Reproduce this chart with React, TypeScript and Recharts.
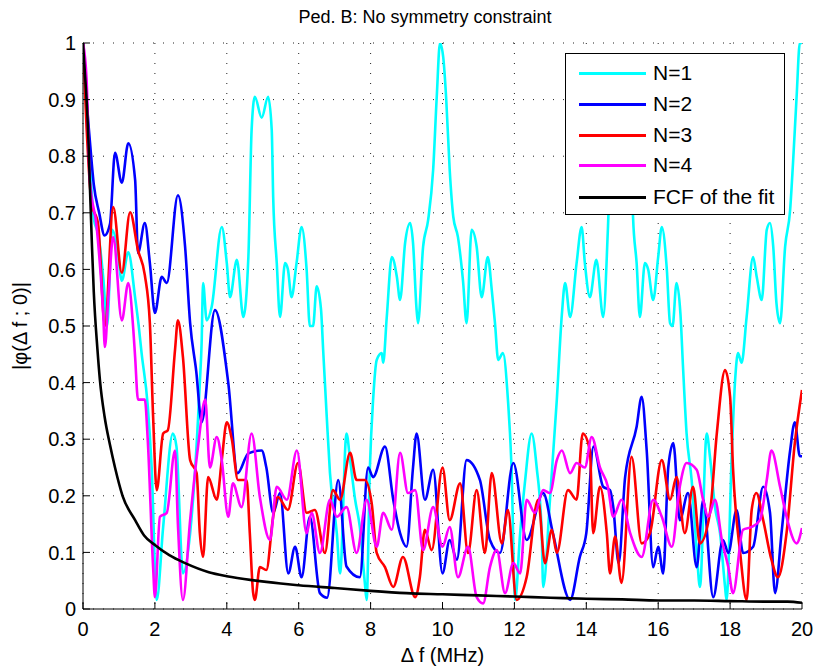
import { LineChart, Line, XAxis, YAxis, CartesianGrid } from "recharts";

// Ped. B frequency correlation, |phi(df;0)| vs df in MHz
const xTicks = [0, 2, 4, 6, 8, 10, 12, 14, 16, 18, 20];
const yTicks = [0, 0.1, 0.2, 0.3, 0.4, 0.5, 0.6, 0.7, 0.8, 0.9, 1];

// [df (MHz), |phi|]
const n1: [number, number][] = [
  [0, 1], [0.1, 0.9], [0.2, 0.78], [0.3, 0.69], [0.43, 0.66], [0.57, 0.58], [0.67, 0.5],
  [0.81, 0.67], [0.95, 0.64], [1.08, 0.58], [1.26, 0.63], [1.45, 0.55], [1.55, 0.5],
  [1.63, 0.452], [1.8, 0.36], [1.91, 0.25], [2.05, 0.016], [2.23, 0.145], [2.5, 0.31],
  [2.6, 0.287], [2.78, 0.063], [2.98, 0.134], [3.25, 0.4], [3.3, 0.47], [3.34, 0.576],
  [3.44, 0.51], [3.58, 0.534], [3.86, 0.675], [4.0, 0.611], [4.09, 0.551], [4.28, 0.617],
  [4.46, 0.516], [4.6, 0.622], [4.69, 0.846], [4.78, 0.905], [4.97, 0.868], [5.15, 0.905],
  [5.25, 0.846], [5.29, 0.728], [5.39, 0.611], [5.48, 0.516], [5.62, 0.611], [5.7, 0.6],
  [5.8, 0.551], [5.94, 0.611], [6.08, 0.675], [6.22, 0.6], [6.31, 0.5], [6.4, 0.5],
  [6.5, 0.57], [6.62, 0.53], [6.68, 0.458], [6.78, 0.34], [6.87, 0.24], [7.06, 0.134],
  [7.15, 0.063], [7.33, 0.31], [7.43, 0.263], [7.57, 0.193], [7.7, 0.145], [7.84, 0.046],
  [7.89, 0.016], [7.98, 0.25], [8.07, 0.37], [8.17, 0.44], [8.31, 0.452], [8.35, 0.435],
  [8.45, 0.516], [8.59, 0.622], [8.73, 0.587], [8.82, 0.546], [8.96, 0.647], [9.1, 0.682],
  [9.18, 0.647], [9.28, 0.528], [9.32, 0.505], [9.46, 0.64], [9.6, 0.687], [9.74, 0.776],
  [9.84, 0.905], [9.93, 1.0], [10.02, 0.975], [10.1, 0.905], [10.2, 0.776], [10.3, 0.693],
  [10.43, 0.657], [10.57, 0.58], [10.67, 0.505], [10.81, 0.67], [10.95, 0.64], [11.09, 0.551],
  [11.26, 0.622], [11.37, 0.564], [11.46, 0.505], [11.55, 0.44], [11.68, 0.452], [11.82, 0.37],
  [11.92, 0.25], [12.02, 0.016], [12.16, 0.134], [12.29, 0.222], [12.48, 0.31], [12.62, 0.25],
  [12.76, 0.134], [12.8, 0.039], [12.99, 0.193], [13.18, 0.37], [13.32, 0.52], [13.41, 0.576],
  [13.55, 0.516], [13.73, 0.611], [13.87, 0.675], [13.96, 0.611], [14.1, 0.551], [14.28, 0.617],
  [14.47, 0.516], [14.6, 0.67], [14.7, 0.85], [14.8, 0.9], [15.0, 0.87], [15.15, 0.9],
  [15.25, 0.85], [15.3, 0.693], [15.4, 0.611], [15.49, 0.516], [15.63, 0.611], [15.72, 0.6],
  [15.86, 0.546], [16.0, 0.622], [16.1, 0.675], [16.24, 0.6], [16.33, 0.505], [16.4, 0.5],
  [16.51, 0.576], [16.62, 0.52], [16.69, 0.428], [16.79, 0.31], [16.93, 0.228], [17.07, 0.104],
  [17.16, 0.039], [17.35, 0.31], [17.44, 0.269], [17.58, 0.18], [17.72, 0.134], [17.86, 0.039],
  [17.9, 0.016], [18.05, 0.28], [18.14, 0.405], [18.22, 0.452], [18.32, 0.435], [18.46, 0.516],
  [18.64, 0.622], [18.74, 0.587], [18.88, 0.546], [19.02, 0.67], [19.11, 0.682], [19.2, 0.64],
  [19.29, 0.54], [19.39, 0.505], [19.53, 0.64], [19.67, 0.705], [19.75, 0.788], [19.85, 0.905],
  [19.94, 1.0], [20, 1.0],
];

const n2: [number, number][] = [
  [0, 1], [0.1, 0.9], [0.2, 0.82], [0.3, 0.75], [0.45, 0.7], [0.6, 0.66], [0.75, 0.68],
  [0.89, 0.806], [1.08, 0.753], [1.26, 0.823], [1.45, 0.758], [1.53, 0.629], [1.72, 0.682],
  [1.86, 0.611], [2.0, 0.523], [2.19, 0.587], [2.33, 0.576], [2.64, 0.731], [2.84, 0.64],
  [2.98, 0.505], [3.15, 0.42], [3.3, 0.33], [3.67, 0.528], [4.04, 0.4], [4.3, 0.24],
  [4.6, 0.275], [4.97, 0.28], [5.1, 0.25], [5.29, 0.17], [5.48, 0.205], [5.71, 0.063],
  [5.9, 0.11], [6.08, 0.056], [6.31, 0.163], [6.59, 0.028], [6.79, 0.02], [7.1, 0.228],
  [7.33, 0.075], [7.7, 0.056], [7.93, 0.25], [8.07, 0.233], [8.4, 0.287], [8.63, 0.193],
  [8.82, 0.134], [9.0, 0.11], [9.18, 0.25], [9.28, 0.31], [9.51, 0.193], [9.74, 0.246],
  [10.0, 0.063], [10.2, 0.122], [10.4, 0.087], [10.67, 0.263], [11.04, 0.228], [11.32, 0.122],
  [11.6, 0.099], [11.97, 0.258], [12.34, 0.122], [12.8, 0.205], [13.07, 0.134], [13.55, 0.016],
  [13.82, 0.092], [14.0, 0.134], [14.2, 0.287], [14.47, 0.216], [14.66, 0.21], [14.75, 0.18],
  [14.9, 0.081], [15.08, 0.233], [15.4, 0.322], [15.54, 0.375], [15.68, 0.28], [15.86, 0.074],
  [16.0, 0.11], [16.14, 0.063], [16.28, 0.25], [16.42, 0.293], [16.6, 0.157], [16.83, 0.205],
  [17.07, 0.074], [17.25, 0.193], [17.53, 0.021], [17.8, 0.122], [17.95, 0.099], [18.18, 0.175],
  [18.36, 0.099], [18.64, 0.11], [18.92, 0.216], [19.11, 0.17], [19.25, 0.028], [19.43, 0.134],
  [19.67, 0.28], [19.8, 0.33], [19.94, 0.27], [20, 0.27],
];

const n3: [number, number][] = [
  [0, 1], [0.1, 0.85], [0.24, 0.717], [0.42, 0.68], [0.61, 0.5], [0.84, 0.71], [1.08, 0.594],
  [1.31, 0.701], [1.53, 0.634], [1.72, 0.59], [1.86, 0.505], [1.95, 0.34], [2.05, 0.21],
  [2.23, 0.31], [2.36, 0.316], [2.56, 0.458], [2.64, 0.51], [2.78, 0.445], [2.98, 0.263],
  [3.16, 0.24], [3.25, 0.134], [3.34, 0.092], [3.48, 0.233], [3.72, 0.193], [3.86, 0.263],
  [4.0, 0.33], [4.14, 0.3], [4.31, 0.228], [4.55, 0.228], [4.64, 0.134], [4.73, 0.03],
  [4.78, 0.016], [4.92, 0.074], [5.1, 0.069], [5.29, 0.163], [5.42, 0.198], [5.7, 0.175],
  [5.98, 0.258], [6.22, 0.17], [6.45, 0.175], [6.73, 0.099], [6.95, 0.21], [7.15, 0.193],
  [7.43, 0.276], [7.61, 0.228], [7.84, 0.228], [8.03, 0.187], [8.17, 0.099], [8.4, 0.074],
  [8.63, 0.039], [8.9, 0.092], [9.24, 0.021], [9.37, 0.056], [9.51, 0.14], [9.7, 0.104],
  [10.0, 0.25], [10.2, 0.157], [10.49, 0.222], [10.71, 0.099], [10.95, 0.21], [11.18, 0.099],
  [11.37, 0.24], [11.65, 0.116], [11.82, 0.175], [12.06, 0.016], [12.34, 0.056], [12.66, 0.193],
  [12.85, 0.081], [13.04, 0.14], [13.18, 0.099], [13.49, 0.21], [13.73, 0.193], [13.9, 0.31],
  [14.1, 0.28], [14.19, 0.134], [14.38, 0.216], [14.57, 0.134], [14.66, 0.063], [14.8, 0.128],
  [14.98, 0.046], [15.26, 0.269], [15.54, 0.116], [15.77, 0.134], [16.1, 0.263], [16.33, 0.193],
  [16.51, 0.233], [16.74, 0.134], [16.97, 0.216], [17.16, 0.116], [17.44, 0.17], [17.63, 0.31],
  [17.86, 0.422], [18.0, 0.375], [18.08, 0.25], [18.28, 0.099], [18.46, 0.016], [18.6, 0.175],
  [18.73, 0.205], [18.92, 0.157], [19.15, 0.087], [19.33, 0.056], [19.57, 0.134], [19.8, 0.293],
  [20, 0.387],
];

const n4: [number, number][] = [
  [0, 1], [0.1, 0.935], [0.19, 0.758], [0.38, 0.675], [0.56, 0.523], [0.61, 0.463], [0.7, 0.546],
  [0.84, 0.657], [1.08, 0.51], [1.26, 0.576], [1.4, 0.493], [1.45, 0.445], [1.53, 0.37],
  [1.72, 0.37], [1.8, 0.3], [1.95, 0.074], [2.0, 0.021], [2.14, 0.163], [2.33, 0.17],
  [2.56, 0.28], [2.64, 0.15], [2.78, 0.016], [2.98, 0.157], [3.2, 0.287], [3.4, 0.37],
  [3.53, 0.25], [3.72, 0.304], [3.86, 0.263], [4.04, 0.163], [4.17, 0.222], [4.41, 0.18],
  [4.69, 0.31], [4.92, 0.198], [5.2, 0.122], [5.39, 0.216], [5.67, 0.193], [5.95, 0.28],
  [6.22, 0.134], [6.36, 0.17], [6.59, 0.099], [6.87, 0.193], [7.06, 0.163], [7.33, 0.18],
  [7.61, 0.099], [7.89, 0.193], [8.17, 0.11], [8.35, 0.17], [8.59, 0.14], [8.82, 0.276],
  [9.04, 0.205], [9.24, 0.21], [9.46, 0.104], [9.74, 0.18], [10.0, 0.11], [10.2, 0.145],
  [10.43, 0.056], [10.71, 0.11], [10.95, 0.021], [11.13, 0.01], [11.32, 0.074], [11.51, 0.104],
  [11.74, 0.028], [11.97, 0.081], [12.16, 0.063], [12.34, 0.193], [12.57, 0.17], [12.8, 0.21],
  [12.99, 0.205], [13.18, 0.263], [13.32, 0.28], [13.55, 0.24], [13.73, 0.258], [13.96, 0.25],
  [14.15, 0.304], [14.38, 0.25], [14.6, 0.216], [14.75, 0.163], [14.98, 0.193], [15.22, 0.134],
  [15.54, 0.092], [15.86, 0.193], [16.1, 0.163], [16.38, 0.11], [16.6, 0.216], [16.79, 0.258],
  [17.07, 0.246], [17.25, 0.193], [17.39, 0.163], [17.58, 0.193], [17.77, 0.122], [17.95, 0.074],
  [18.08, 0.028], [18.36, 0.14], [18.6, 0.145], [18.83, 0.157], [19.02, 0.228], [19.15, 0.28],
  [19.39, 0.216], [19.57, 0.163], [19.85, 0.116], [20, 0.143],
];

const fcf: [number, number][] = [
  [0, 1], [0.03, 0.97], [0.06, 0.94], [0.1, 0.9], [0.15, 0.83], [0.19, 0.75], [0.25, 0.64],
  [0.3, 0.56], [0.4, 0.46], [0.47, 0.405], [0.6, 0.34], [0.75, 0.29], [0.89, 0.25], [1.1, 0.2],
  [1.45, 0.157], [1.7, 0.13], [2.0, 0.113], [2.4, 0.095], [2.84, 0.081], [3.5, 0.065],
  [4.0, 0.058], [4.7, 0.051], [5.5, 0.045], [6.0, 0.042], [7.0, 0.037], [8.0, 0.032],
  [9.0, 0.028], [10.0, 0.026], [11.0, 0.024], [12.0, 0.022], [13.0, 0.02], [14.0, 0.018],
  [15.0, 0.017], [16.0, 0.015], [17.0, 0.015], [18.0, 0.014], [19.0, 0.013], [19.6, 0.013],
  [20, 0.011],
];

const series = [
  { name: "N=1", color: "#00ffff", pts: n1 },
  { name: "N=2", color: "#0000ff", pts: n2 },
  { name: "N=3", color: "#ff0000", pts: n3 },
  { name: "N=4", color: "#ff00ff", pts: n4 },
  { name: "FCF of the fit", color: "#000000", pts: fcf },
];

const font = "'Liberation Sans', Arial, Helvetica, sans-serif";

const fmtY = (v: number) => (v === 0 || v === 1 ? String(v) : v.toFixed(1));

export default function App() {
  return (
    <div
      style={{
        position: "absolute",
        left: 0,
        top: 0,
        width: 819,
        height: 671,
        background: "#fff",
        fontFamily: font,
      }}
    >
      <LineChart
        width={819}
        height={671}
        margin={{ top: 43, right: 17, bottom: 32, left: 0 }}
      >
        <CartesianGrid stroke="#222" strokeDasharray="1 9" />
        <XAxis
          dataKey="f"
          type="number"
          domain={[0, 20]}
          ticks={xTicks}
          allowDataOverflow
          height={30}
          tickSize={-7}
          tickMargin={20}
          axisLine={{ stroke: "#000" }}
          tickLine={{ stroke: "#000" }}
          tick={{ fill: "#000", fontSize: 20, fontFamily: font }}
        />
        <XAxis
          xAxisId="top"
          orientation="top"
          dataKey="f"
          type="number"
          domain={[0, 20]}
          ticks={xTicks}
          allowDataOverflow
          height={0}
          tickSize={-7}
          tick={false}
          axisLine={{ stroke: "#000" }}
          tickLine={{ stroke: "#000" }}
        />
        <YAxis
          type="number"
          domain={[0, 1]}
          ticks={yTicks}
          allowDataOverflow
          width={83}
          tickSize={-7}
          tickMargin={14}
          tickFormatter={fmtY}
          axisLine={{ stroke: "#000" }}
          tickLine={{ stroke: "#000" }}
          tick={{ fill: "#000", fontSize: 20, fontFamily: font }}
        />
        <YAxis
          yAxisId="right"
          orientation="right"
          type="number"
          domain={[0, 1]}
          ticks={yTicks}
          allowDataOverflow
          width={0}
          tickSize={-7}
          tick={false}
          axisLine={{ stroke: "#000" }}
          tickLine={{ stroke: "#000" }}
        />
        {series.map((s) => (
          <Line
            key={s.name}
            data={s.pts.map(([f, v]) => ({ f, v }))}
            dataKey="v"
            name={s.name}
            type="monotone"
            stroke={s.color}
            strokeWidth={2.6}
            dot={false}
            activeDot={false}
            isAnimationActive={false}
          />
        ))}
      </LineChart>

      <div
        style={{
          position: "absolute",
          left: 0,
          width: 819,
          top: 6,
          textAlign: "center",
          fontSize: 18,
          lineHeight: "22px",
          paddingLeft: 31,
          boxSizing: "border-box",
        }}
      >
        Ped. B: No symmetry constraint
      </div>
      <div
        style={{
          position: "absolute",
          left: 83,
          width: 719,
          top: 643,
          textAlign: "center",
          fontSize: 20,
          lineHeight: "24px",
        }}
      >
        Δ f (MHz)
      </div>
      <div
        style={{
          position: "absolute",
          left: 20,
          top: 326,
          transform: "translate(-50%, -50%) rotate(-90deg)",
          whiteSpace: "nowrap",
          fontSize: 20,
          lineHeight: "24px",
        }}
      >
        |φ(Δ f ; 0)|
      </div>

      <div
        style={{
          position: "absolute",
          left: 565,
          top: 53,
          width: 220,
          height: 162,
          background: "#fff",
          border: "1px solid #000",
          boxSizing: "border-box",
        }}
      >
        {series.map((s, i) => (
          <div
            key={s.name}
            style={{
              position: "absolute",
              left: 0,
              top: [19, 50, 81, 111, 143][i] - 13,
              height: 26,
              display: "flex",
              alignItems: "center",
              whiteSpace: "nowrap",
            }}
          >
            <div
              style={{
                marginLeft: 13,
                width: 67,
                height: 3,
                background: s.color,
              }}
            />
            <span style={{ marginLeft: 7, fontSize: 21, lineHeight: "26px" }}>
              {s.name}
            </span>
          </div>
        ))}
      </div>
    </div>
  );
}
